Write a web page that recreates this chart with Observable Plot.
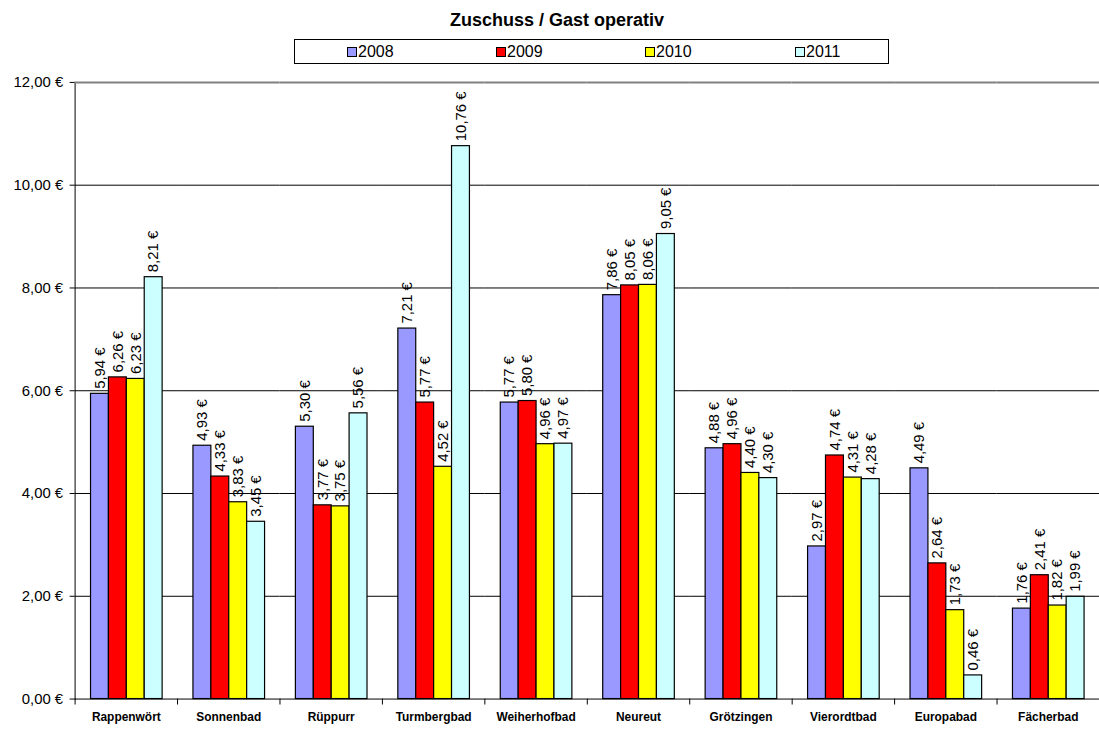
<!DOCTYPE html>
<html>
<head>
<meta charset="utf-8">
<script src="https://cdn.jsdelivr.net/npm/d3@7"></script>
<script src="https://cdn.jsdelivr.net/npm/@observablehq/plot@0.6"></script>
<style>
  html, body { margin: 0; padding: 0; overflow: hidden; background: #fff; }
  body { font-family: "Liberation Sans", Arial, sans-serif; width: 1099px; height: 729px; position: relative; }
  #head { position: relative; height: 70px; }
  #title { position: absolute; left: 0; width: 1114px; top: 11px; text-align: center; font-weight: bold; font-size: 18px; line-height: 18px; }
  #legend { position: absolute; left: 294px; top: 39px; width: 595px; height: 25px; box-sizing: border-box; border: 1px solid #000; }
  .item { position: absolute; top: 0; height: 23px; display: flex; align-items: center; font-size: 16px; }
  .sw { width: 8px; height: 8px; border: 1px solid #000; margin-right: 1px; }
  #chart svg { display: block; }
</style>
</head>
<body>
<div id="head">
  <div id="title">Zuschuss / Gast operativ</div>
  <div id="legend"></div>
</div>
<div id="chart"></div>
<script>
const categories = ["Rappenwört", "Sonnenbad", "Rüppurr", "Turmbergbad", "Weiherhofbad", "Neureut", "Grötzingen", "Vierordtbad", "Europabad", "Fächerbad"];
const years = ["2008", "2009", "2010", "2011"];
const values2008 = [5.94, 4.93, 5.30, 7.21, 5.77, 7.86, 4.88, 2.97, 4.49, 1.76];
const values2009 = [6.26, 4.33, 3.77, 5.77, 5.80, 8.05, 4.96, 4.74, 2.64, 2.41];
const values2010 = [6.23, 3.83, 3.75, 4.52, 4.96, 8.06, 4.40, 4.31, 1.73, 1.82];
const values2011 = [8.21, 3.45, 5.56, 10.76, 4.97, 9.05, 4.30, 4.28, 0.46, 1.99];
const colors = ["#9999FF", "#FF0000", "#FFFF00", "#CCFFFF"];
const yTicks = [0, 2, 4, 6, 8, 10, 12];
const gridValues = [2, 4, 6, 8, 10];

const series = [values2008, values2009, values2010, values2011];
const data = [];
categories.forEach((cat, i) => {
  years.forEach((yr, j) => data.push({cat, year: yr, value: series[j][i]}));
});

const fmt = v => v.toFixed(2).replace(".", ",") + " €";

// legend
const legend = document.getElementById("legend");
const legendLeft = [52, 201, 350, 500];
years.forEach((yr, j) => {
  const it = document.createElement("div");
  it.className = "item";
  it.style.left = legendLeft[j] + "px";
  const sw = document.createElement("div");
  sw.className = "sw";
  sw.style.background = colors[j];
  it.appendChild(sw);
  it.appendChild(document.createTextNode(yr));
  legend.appendChild(it);
});

const chart = Plot.plot({
  width: 1105,
  height: 659,
  marginLeft: 75,
  marginRight: 0,
  marginTop: 12,
  marginBottom: 27,
  style: {fontFamily: "'Liberation Sans', Arial, sans-serif", fontSize: "15px", color: "#000", background: "transparent", overflow: "visible"},
  fx: {domain: categories, padding: 0, label: null},
  x: {domain: years, paddingInner: 0, paddingOuter: 0.747, axis: null},
  y: {domain: [0, 12], ticks: yTicks, tickFormat: fmt, tickSize: 5, tickPadding: 7, label: null, line: true},
  color: {domain: years, range: colors},
  marks: [
    Plot.ruleY(gridValues, {stroke: "#000", strokeWidth: 1}),
    Plot.ruleY([12], {stroke: "#808080", strokeWidth: 2}),
    Plot.ruleY([0], {stroke: "#000", strokeWidth: 1}),
    Plot.frame({anchor: "left", stroke: "#000", insetTop: 620, insetBottom: -5}),
    Plot.barY(data, {fx: "cat", x: "year", y: "value", fill: "year", stroke: "#000", strokeWidth: 1.2}),
    Plot.text(data, {fx: "cat", x: "year", y: "value", text: d => fmt(d.value), rotate: -90, textAnchor: "start", lineAnchor: "middle", dy: -5, fontSize: 15, fill: "#000"}),
    Plot.axisFx({anchor: "bottom", tickSize: 0, tickPadding: 14, fontSize: 12, fontWeight: "bold", label: null})
  ]
});
document.getElementById("chart").appendChild(chart);
</script>
</body>
</html>
